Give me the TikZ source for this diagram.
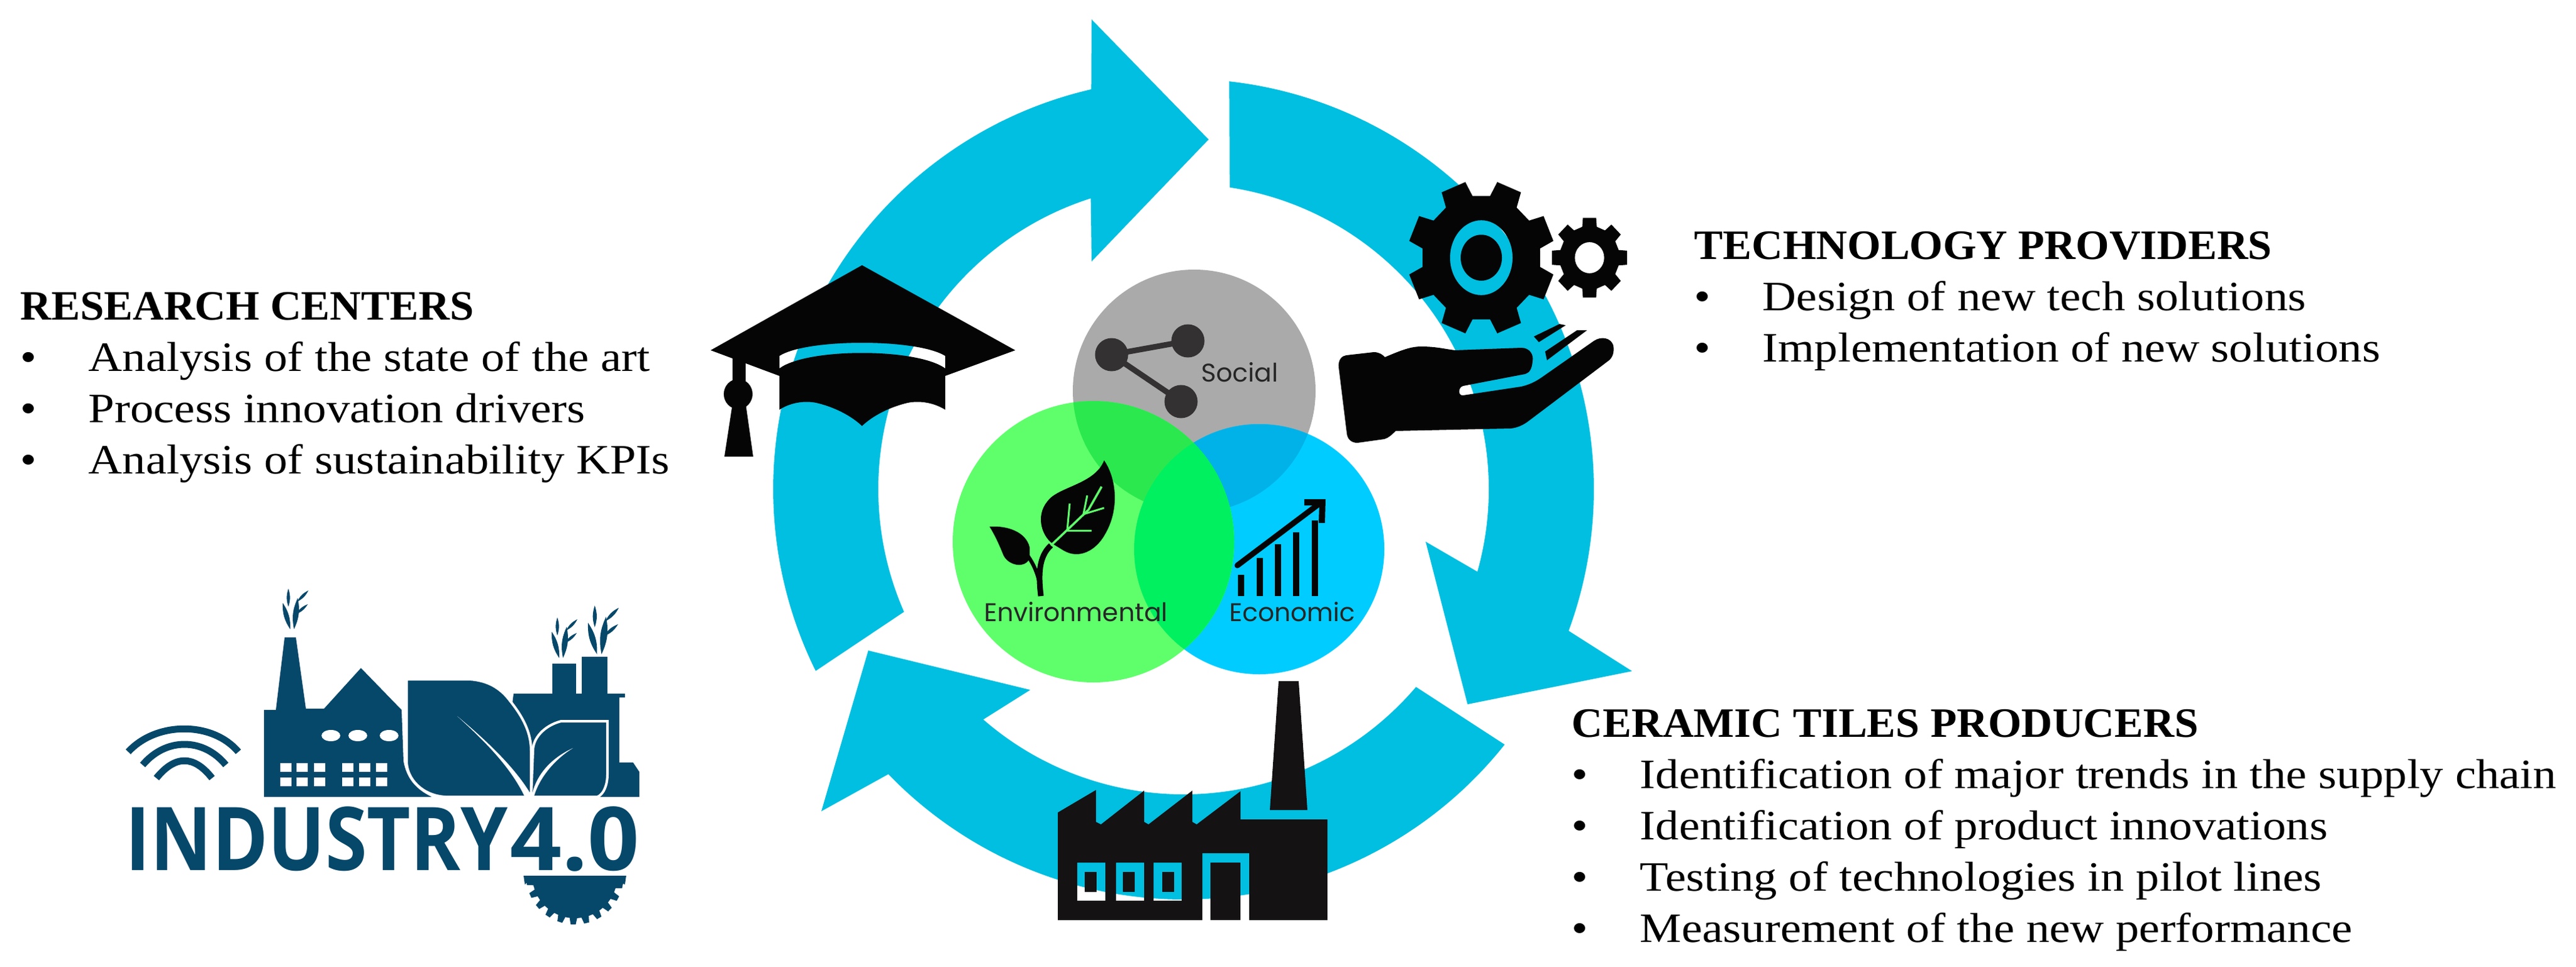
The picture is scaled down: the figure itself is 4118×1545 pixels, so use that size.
\documentclass[tikz,border=0pt]{standalone}
\usepackage{fontspec}
\setmainfont[FakeStretch=1.12]{Liberation Serif}
\newfontfamily\headfont[FakeStretch=1.03]{Liberation Serif}
\newfontfamily\vennfont{Poppins}
\newfontfamily\logofont{Open Sans}
\usetikzlibrary{calc}
\definecolor{ringblue}{HTML}{00BFE0}
\definecolor{logoteal}{HTML}{06486A}
\definecolor{vgray}{HTML}{AAAAAA}
\definecolor{vgreen}{HTML}{5FFF6B}
\definecolor{vblue}{HTML}{00CCFF}
\definecolor{vgraygreen}{HTML}{2BE84F}
\definecolor{vgrayblue}{HTML}{00B2E8}
\definecolor{vgreenblue}{HTML}{00F060}
\definecolor{iconblack}{HTML}{050505}
\definecolor{factblack}{HTML}{141213}
\definecolor{sharegray}{HTML}{333132}
\tikzset{
    blocktext/.style={anchor=north west,inner sep=0,align=left,font=\fontsize{19}{23.3}\selectfont},
    venntext/.style={inner sep=0,font=\vennfont\fontsize{11.6}{13}\selectfont,text=black!85},
    logotext/.style={anchor=base west,inner sep=0,text=logoteal,font=\logofont\bfseries\fontsize{40}{40}\selectfont},
}
\newcommand{\itm}{\makebox[1.09cm][l]{\textbullet}}
\newcommand{\hdr}[1]{{\headfont\bfseries #1}}
\newcommand{\sprigat}[3]{%
    \begin{scope}[shift={(#1,#2)},scale=#3]
    \foreach \xa/\ya/\xb/\yb in {-3/0/-15/-42,3/0/9/-50,-6/-36/-6/-65,6/-24/25/-40,8/-44/26/-62}
        \fill[logoteal](\xa,\ya)to[bend left=18](\xb,\yb)to[bend left=18](\xa,\ya);
    \end{scope}}

\begin{document}
\begin{tikzpicture}[x=0.01cm,y=-0.01cm]
    \useasboundingbox(0,0)rectangle(4118,1545);
    \coordinate (ringc) at (1892,782);
    % ring of arrows
    \fill[ringblue]($(ringc)+(153.7:656)$)arc[start angle=153.7,end angle=257,radius=656]--(1745,31)--(1932,223)--(1745,418)--($(ringc)+(252.3:488)$)arc[start angle=252.3,end angle=156.3,radius=488]--cycle;
    \fill[ringblue]($(ringc)+(-83.6:656)$)arc[start angle=-83.6,end angle=20.2,radius=656]--(2609,1073)--(2346,1126)--(2279,866)--($(ringc)+(15.7:488)$)arc[start angle=15.7,end angle=-81.3,radius=488]--cycle;
    \fill[ringblue]($(ringc)+(38.5:656)$)arc[start angle=38.5,end angle=136,radius=656]--(1313,1297)--(1388,1040)--(1647,1103)--($(ringc)+(131:488)$)arc[start angle=131,end angle=40.4,radius=488]--cycle;
    % venn
    \coordinate (socialc) at (1909,625);
    \coordinate (envc) at (1748,866);
    \coordinate (econc) at (2013,878);
    \fill[vgray](socialc)circle(194);
    \fill[vblue](econc)circle(200);
    \fill[vgreen](envc)circle(225);
    \begin{scope}
        \clip(socialc)circle(194);
        \fill[vgrayblue](econc)circle(200);
        \fill[vgraygreen](envc)circle(225);
    \end{scope}
    \begin{scope}
        \clip(envc)circle(225);
        \fill[vgreenblue](econc)circle(200);
    \end{scope}
    % share icon
    \draw[sharegray,line width=.09cm](1899,545)--(1777,567)--(1888,642);
    \fill[sharegray](1777,567)circle(26.5);
    \fill[sharegray](1899,545)circle(26.5);
    \fill[sharegray](1888,642)circle(26.5);
    \node[venntext] (sociallabel) at (1982,595) {Social};
    % plant icon
    \fill[iconblack](1765,736)..controls(1785,765)and(1790,815)..(1766,855)..controls(1752,880)and(1725,895)..(1700,880)--(1687,872)..controls(1665,860)and(1655,825)..(1674,802)..controls(1690,778)and(1750,775)..cycle;
    \fill[iconblack](1582,842)..controls(1610,840)and(1640,850)..(1646,875)--(1646,892)..controls(1640,910)and(1610,905)..(1603,885)..controls(1597,870)and(1590,855)..cycle;
    \draw[iconblack,line width=.09cm](1680,872)..controls(1660,890)and(1660,920)..(1664,953);
    \draw[iconblack,line width=.06cm](1632,875)..controls(1650,895)and(1660,915)..(1664,945);
    \draw[vgreen,line width=.035cm](1680,872)--(1740,815)--(1761,778);
    \draw[vgreen,line width=.03cm](1706,848)--(1710,805);
    \draw[vgreen,line width=.03cm](1706,848)--(1745,848);
    \draw[vgreen,line width=.03cm](1732,822)--(1738,792);
    \draw[vgreen,line width=.03cm](1732,822)--(1765,812);
    \node[venntext] (envlabel) at (1720,978) {Environmental};
    % chart icon
    \foreach \xx/\yy in {1984/919,2014/892,2043/870,2072/851,2102/832}
        \fill[iconblack](\xx-5,\yy)rectangle(\xx+5,953);
    \draw[iconblack,line width=.09cm,line cap=round](1978,904)--(2108,806);
    \fill[iconblack](2085,798)--(2119,798)--(2118,836)--(2108,836)--(2109,808)--(2085,808)--cycle;
    \node[venntext] (econlabel) at (2066,978) {Economic};
    % cap
    \fill[iconblack,even odd rule](1378,424)--(1623,560)--(1511,601)--(1511,655)..controls(1490,642)and(1465,640)..(1447,645)..controls(1420,652)and(1395,665)..(1378,681)..controls(1361,665)and(1336,652)..(1309,645)..controls(1291,640)and(1266,642)..(1246,655)--(1246,601)--(1136,560)--cycle
        (1246,569)..controls(1290,541)and(1466,541)..(1511,569)--(1511,589)..controls(1466,556)and(1290,556)..(1246,589)--cycle;
    \fill[iconblack](1171,565)rectangle(1192,612);
    \fill[iconblack](1180,630)ellipse[x radius=23,y radius=24];
    \fill[iconblack](1171,645)--(1192,645)--(1204,730)--(1158,730)--cycle;
    % gears
    \begin{scope}[shift={(2368,412)},yscale=1.05]
        \fill[iconblack,even odd rule](8:95)\foreach \a in {22.5,67.5,...,360}{--(\a-14:95)--(\a-10:118)--(\a+10:118)--(\a+14:95)}--cycle
            (0,0)ellipse[x radius=50,y radius=57];
        \fill[iconblack](0,0)ellipse[x radius=33,y radius=35];
    \end{scope}
    \begin{scope}[shift={(2541,412)},yscale=1.06]
        \fill[iconblack,even odd rule](-14:48)\foreach \a in {0,45,...,315}{--(\a-14:48)--(\a-10:61)--(\a+10:61)--(\a+14:48)}--cycle
            (0,0)circle(23.5);
    \end{scope}
    % hand
    \fill[iconblack](2140,587)..controls(2139,575)and(2145,569)..(2152,568)--(2196,563)..controls(2205,563)and(2210,567)..(2214,571)..controls(2240,560)and(2255,554)..(2272,554)..controls(2295,554)and(2310,558)..(2326,560)--(2432,556)..controls(2446,556)and(2452,568)..(2450,577)..controls(2449,590)and(2445,596)..(2438,598)--(2339,617)..controls(2331,619)and(2330,633)..(2339,632)--(2432,618)..controls(2445,615)and(2455,610)..(2465,603)--(2548,545)..controls(2560,537)and(2575,540)..(2579,552)..controls(2581,563)and(2578,572)..(2571,577)--(2445,672)..controls(2435,680)and(2425,684)..(2415,685)--(2231,689)..controls(2225,695)and(2220,700)..(2213,702)--(2170,708)..controls(2160,708)and(2154,702)..(2153,693)--cycle;
    \fill[iconblack](2452,538)--(2493,518)--(2503,520)--(2460,547)--cycle;
    \fill[iconblack](2470,562)--(2521,528)--(2537,528)--(2473,576)--cycle;
    % factory
    \fill[factblack,even odd rule](1691,1471)--(1691,1299)--(1752,1263)--(1752,1314)--(1760,1318)--(1829,1264)--(1829,1314)--(1836,1318)--(1906,1264)--(1906,1314)--(1913,1318)--(1983,1265)--(1983,1310)--(2122,1310)--(2122,1471)--(1997,1471)--(1997,1364)--(1922,1364)--(1922,1471)--cycle
        (1722,1379)rectangle(1767,1440)
        (1784,1379)rectangle(1829,1440)
        (1844,1379)rectangle(1889,1440);
    \foreach \xx in {1734,1795,1858}
        \fill[factblack](\xx,1394)rectangle(\xx+19,1426);
    \fill[factblack](1935,1379)rectangle(1983,1471);
    \fill[factblack](2044,1089)--(2076,1089)--(2090,1295)--(2030,1295)--cycle;
    % text blocks
    \node[blocktext] (researchtext) at (32,467) {\hdr{RESEARCH CENTERS}\\\itm Analysis of the state of the art\\\itm Process innovation drivers\\\itm Analysis of sustainability KPIs};
    \node[blocktext] (techtext) at (2708,370) {\hdr{TECHNOLOGY PROVIDERS}\\\itm Design of new tech solutions\\\itm Implementation of new solutions};
    \node[blocktext] (tilestext) at (2512,1134) {\hdr{CERAMIC TILES PRODUCERS}\\\itm Identification of major trends in the supply chain\\\itm Identification of product innovations\\\itm Testing of technologies in pilot lines\\\itm Measurement of the new performance};
    % logo
    \draw[logoteal,line width=.11cm](205,1202)..controls(250,1153)and(340,1153)..(381,1202);
    \draw[logoteal,line width=.11cm](228,1223)..controls(265,1179)and(325,1179)..(361,1223);
    \draw[logoteal,line width=.11cm](250,1244)..controls(280,1207)and(310,1207)..(339,1244);
    \fill[logoteal](821,1109)--(999,1109)--(999,1115)--(990,1115)--(990,1219)--(1012,1219)--(1022,1234)--(1022,1274)--(950,1274)--(800,1274)--cycle;
    \fill[logoteal](883,1061)rectangle(921,1109);
    \fill[logoteal](930,1050)rectangle(971,1109);
    \fill[logoteal,even odd rule](422,1274)--(422,1135)--(441,1135)--(455,1019)--(473,1019)--(489,1133)--(518,1133)--(577,1068)--(642,1135)--(645,1217)..controls(650,1245)and(665,1262)..(690,1274)--cycle;
    \foreach \xx in {529,572,622}
        \fill[white](\xx,1176)ellipse[x radius=15,y radius=9];
    \foreach \xx in {457,483,511,556,583,610}
        \foreach \yy in {1227,1250}
            \fill[white](\xx-9,\yy-7)rectangle(\xx+9,\yy+7);
    % logo leaves
    \draw[white,line width=.04cm,fill=logoteal](650,1086)--(751,1086)..controls(780,1088)and(800,1100)..(815,1120)..controls(835,1145)and(849,1170)..(849,1200)--(849,1274)--(712,1274)..controls(675,1272)and(650,1245)..(650,1217)--cycle;
    \draw[white,line width=.04cm,fill=logoteal](849,1274)--(955,1274)..controls(965,1270)and(971,1255)..(971,1238)--(971,1153)--(897,1153)..controls(870,1160)and(852,1180)..(852,1200)--cycle;
    \fill[white](731,1145)..controls(785,1190)and(825,1230)..(850,1272)--(838,1272)..controls(815,1225)and(775,1185)..cycle;
    \fill[white](916,1196)..controls(885,1215)and(862,1245)..(854,1272)--(850,1272)..controls(858,1235)and(885,1210)..cycle;
    \sprigat{467}{1006}{1}
    \sprigat{897}{1052}{1}
    \sprigat{958}{1046}{1.2}
    \node[logotext] (logoname) at (200,1391) {\scalebox{.86}[1]{INDUSTRY}};
    \node[logotext] (logonumber) at (815,1391) {\scalebox{1.03}[1]{4.0}};
    \begin{scope}[shift={(919,1400)}]
        \fill[logoteal](-82,0)--(82,0)--(80,14)\foreach \a in {12,28,...,172}{--(\a-5:68)--(\a-3:78)--(\a+3:78)--(\a+5:68)}--(-80,14)--cycle;
    \end{scope}
\end{tikzpicture}
\end{document}
